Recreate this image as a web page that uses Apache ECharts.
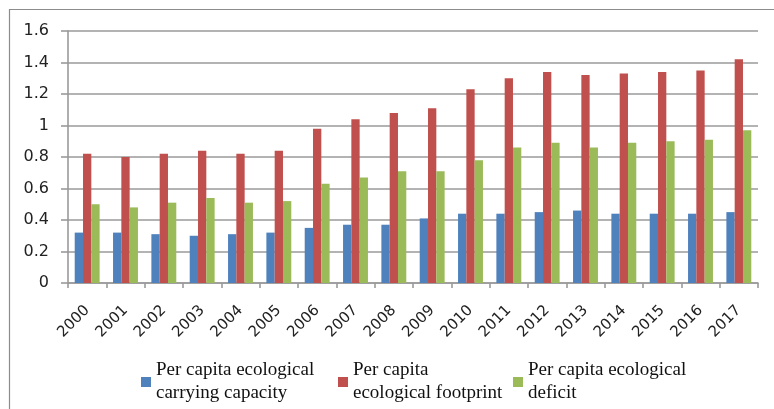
<!DOCTYPE html>
<html>
<head>
<meta charset="utf-8">
<script src="https://cdn.jsdelivr.net/npm/echarts@6/dist/echarts.min.js"></script>
<style>
html,body{margin:0;padding:0;background:#fff;}
#chart{width:774px;height:409px;}
</style>
</head>
<body>
<div id="chart"></div>
<script>
var years = ['2000','2001','2002','2003','2004','2005','2006','2007','2008','2009','2010','2011','2012','2013','2014','2015','2016','2017'];
var carryingCapacity = [0.32,0.32,0.31,0.30,0.31,0.32,0.35,0.37,0.37,0.41,0.44,0.44,0.45,0.46,0.44,0.44,0.44,0.45];
var footprint = [0.82,0.80,0.82,0.84,0.82,0.84,0.98,1.04,1.08,1.11,1.23,1.30,1.34,1.32,1.33,1.34,1.35,1.42];
var deficit = [0.50,0.48,0.51,0.54,0.51,0.52,0.63,0.67,0.71,0.71,0.78,0.86,0.89,0.86,0.89,0.90,0.91,0.97];
var seriesNames = ['Per capita ecological\ncarrying capacity','Per capita\necological footprint','Per capita ecological\ndeficit'];
var yTicks = {min:0, max:1.6, interval:0.2};

var chart = echarts.init(document.getElementById('chart'));
var legendText = {fontFamily:'"Liberation Serif","Times New Roman",serif', fontSize:19, lineHeight:23, color:'#111'};
function legend(i, left){
  return {data:[seriesNames[i]], left:left, top:359, itemWidth:10, itemHeight:10, icon:'rect', textStyle:legendText, padding:0};
}
var lineCol = '#9a9a9a';
chart.setOption({
  animation:false,
  graphic:[{type:'rect', shape:{x:9.5,y:9.5,width:800,height:500}, style:{fill:'none', stroke:'#8c8c8c', lineWidth:1.2}, silent:true}],
  grid:{left:68, right:16, top:31, bottom:126},
  legend:[legend(0,141), legend(1,338), legend(2,513)],
  xAxis:{
    type:'category', data:years,
    axisLine:{lineStyle:{color:lineCol, width:1.6}},
    axisTick:{show:true, length:5, lineStyle:{color:lineCol, width:1.6}},
    axisLabel:{rotate:45, fontFamily:'"DejaVu Sans",sans-serif', fontSize:15, color:'#222', margin:25, interval:0}
  },
  yAxis:{
    type:'value', min:yTicks.min, max:yTicks.max, interval:yTicks.interval,
    axisLine:{show:true, lineStyle:{color:lineCol, width:1.6}},
    axisTick:{show:true, length:7, lineStyle:{color:lineCol, width:1.6}},
    splitLine:{lineStyle:{color:lineCol, width:1.6}},
    axisLabel:{fontFamily:'"DejaVu Sans",sans-serif', fontSize:16, color:'#222', margin:19}
  },
  series:[
    {name:seriesNames[0], type:'bar', data:carryingCapacity, itemStyle:{color:'#4F81BD'}, barGap:'0%', barCategoryGap:'35%'},
    {name:seriesNames[1], type:'bar', data:footprint, itemStyle:{color:'#C0504D'}, barGap:'0%', barCategoryGap:'35%'},
    {name:seriesNames[2], type:'bar', data:deficit, itemStyle:{color:'#9BBB59'}, barGap:'0%', barCategoryGap:'35%'}
  ]
});
</script>
</body>
</html>
